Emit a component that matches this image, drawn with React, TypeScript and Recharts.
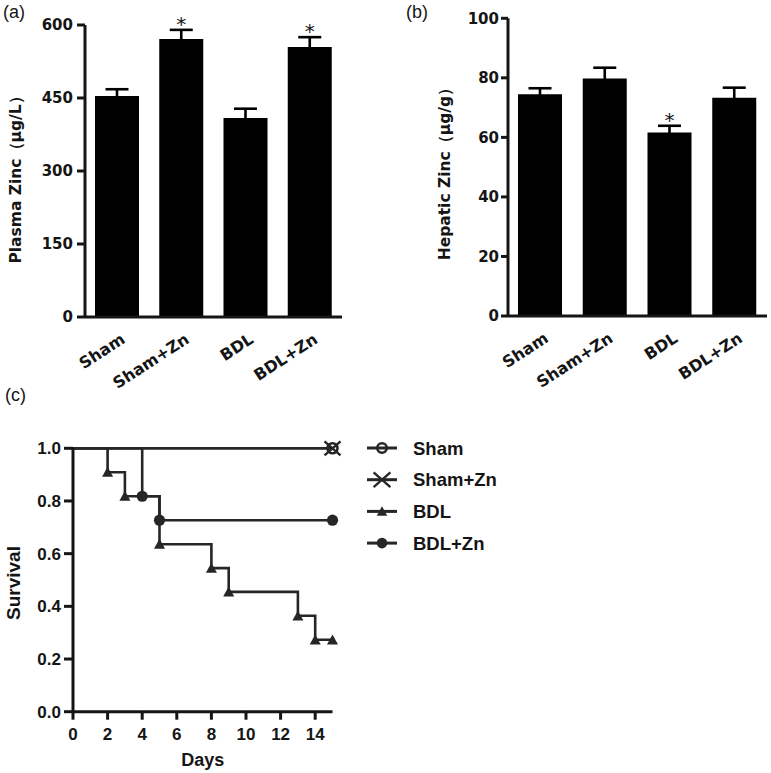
import React from 'react';
import { BarChart, Bar, XAxis, YAxis, ErrorBar, LabelList, LineChart, Line, Legend } from 'recharts';

// ---------- data ----------
const categories = ['Sham', 'Sham+Zn', 'BDL', 'BDL+Zn'];

const plasmaMean = [454, 571, 409, 555];
const plasmaSem = [14, 19, 19, 20];
const plasmaSig = ['', '*', '', '*'];
const plasmaTicks = [0, 150, 300, 450, 600];

const hepaticMean = [74.5, 79.8, 61.6, 73.3];
const hepaticSem = [2.0, 3.6, 2.3, 3.4];
const hepaticSig = ['', '', '*', ''];
const hepaticTicks = [0, 20, 40, 60, 80, 100];

const dayTicks = [0, 2, 4, 6, 8, 10, 12, 14];
const survivalTicks = [0, 0.2, 0.4, 0.6, 0.8, 1.0];

const seriesNames = ['Sham', 'Sham+Zn', 'BDL', 'BDL+Zn'];
const shamDays = [0, 15];
const shamSurvival = [1, 1];
const shamZnDays = [0, 15];
const shamZnSurvival = [1, 1];
const bdlDays = [0, 2, 3, 5, 8, 9, 13, 14, 15];
const bdlSurvival = [1, 0.909, 0.818, 0.636, 0.545, 0.455, 0.364, 0.273, 0.273];
const bdlZnDays = [0, 4, 5, 15];
const bdlZnSurvival = [1, 0.818, 0.727, 0.727];

// ---------- tables built from arrays ----------
const plasmaData = categories.map((name, i) => ({ name, mean: plasmaMean[i], sem: plasmaSem[i], sig: plasmaSig[i] }));
const hepaticData = categories.map((name, i) => ({ name, mean: hepaticMean[i], sem: hepaticSem[i], sig: hepaticSig[i] }));
const toSeries = (days: number[], surv: number[]) => days.map((d, i) => ({ day: d, surv: surv[i] }));
const survivalSeries = [
  toSeries(shamDays, shamSurvival),
  toSeries(shamZnDays, shamZnSurvival),
  toSeries(bdlDays, bdlSurvival),
  toSeries(bdlZnDays, bdlZnSurvival),
];
const seriesMarkers = ['openCircle', 'cross', 'triangle', 'dot'];

// ---------- styles ----------
const INK = '#151515';
const LINE = '#262626';
const WIDE = 'DejaVu Sans';
const ARIAL = 'Liberation Sans';

const BarTick = (props: any) => {
  const { x, y, payload } = props;
  return (
    <text
      x={0}
      y={0}
      transform={`translate(${x + 9},${y + 17}) rotate(-33)`}
      textAnchor="end"
      fill={INK}
      fontSize={16}
      fontFamily={WIDE}
      fontWeight="bold"
    >
      {payload.value}
    </text>
  );
};

const makeStar = (means: number[], sems: number[]) => (props: any) => {
  const { x, y, width, height, value, index } = props;
  if (!value) return null;
  const errPx = (Math.abs(height) / means[index]) * sems[index];
  return (
    <text
      key={`star-${index}`}
      x={x + width / 2}
      y={y - errPx + 1}
      textAnchor="middle"
      fontSize={20}
      fontFamily={WIDE}
      fill={INK}
    >
      {value}
    </text>
  );
};

const makeYTitle = (text: string, bx: number, dyOff: number, size: number, family: string) => (props: any) => {
  const vb = props.viewBox || {};
  const x = vb.x + bx;
  const y = vb.y + vb.height / 2 + dyOff;
  return (
    <text
      x={x}
      y={y}
      transform={`rotate(-90, ${x}, ${y})`}
      textAnchor="middle"
      fill={INK}
      fontSize={size}
      fontFamily={family}
      fontWeight="bold"
    >
      {text}
    </text>
  );
};

const DaysTitle = (props: any) => {
  const vb = props.viewBox || {};
  return (
    <text x={vb.x + vb.width / 2} y={vb.y + 54.3} textAnchor="middle" fill={INK} fontSize={18} fontFamily={ARIAL} fontWeight="bold">
      Days
    </text>
  );
};

const Marker = ({ kind, cx, cy, scale = 1 }: { kind: string; cx: number; cy: number; scale?: number }) => {
  const s = scale;
  switch (kind) {
    case 'openCircle':
      return <circle cx={cx} cy={cy} r={5 * s} fill="none" stroke={LINE} strokeWidth={2.6} />;
    case 'cross':
      return (
        <g stroke={LINE} strokeWidth={2.4}>
          <line x1={cx - 8 * s} y1={cy - 7 * s} x2={cx + 8 * s} y2={cy + 7 * s} />
          <line x1={cx - 8 * s} y1={cy + 7 * s} x2={cx + 8 * s} y2={cy - 7 * s} />
        </g>
      );
    case 'triangle':
      return (
        <polygon
          points={`${cx - 5.5 * s},${cy + 4.6 * s} ${cx + 5.5 * s},${cy + 4.6 * s} ${cx},${cy - 5.4 * s}`}
          fill={LINE}
        />
      );
    default:
      return <circle cx={cx} cy={cy} r={5.6 * s} fill={LINE} />;
  }
};

const makeDot = (kind: string) => (props: any) => {
  const { cx, cy, index } = props;
  if (index === 0 || cx == null || cy == null) return <g key={`d-${kind}-${index}`} />;
  return (
    <g key={`d-${kind}-${index}`}>
      <Marker kind={kind} cx={cx} cy={cy} />
    </g>
  );
};

const LegendContent = (props: any) => {
  const payload = [...(props.payload || [])].sort(
    (a: any, b: any) => seriesNames.indexOf(a.value) - seriesNames.indexOf(b.value)
  );
  return (
    <svg width={170} height={125} style={{ display: 'block', overflow: 'visible' }}>
      {payload.map((entry: any, i: number) => {
        const y = 12 + i * 31.7;
        const idx = seriesNames.indexOf(entry.value);
        const kind = seriesMarkers[idx >= 0 ? idx : i];
        return (
          <g key={`leg-${i}`}>
            <line x1={7} y1={y} x2={37} y2={y} stroke={LINE} strokeWidth={3} />
            <Marker kind={kind} cx={22} cy={y} scale={kind === 'cross' ? 1.05 : 0.95} />
            <text x={53} y={y + 6.5} fill={INK} fontSize={18.5} fontFamily={ARIAL} fontWeight="bold">
              {entry.value}
            </text>
          </g>
        );
      })}
    </svg>
  );
};

const barAxisTick = { fill: INK, fontSize: 15, fontFamily: WIDE, fontWeight: 'bold' } as any;

export default function App() {
  return (
    <div style={{ position: 'absolute', left: 0, top: 0, width: 771, height: 773, background: '#fff', overflow: 'hidden' }}>
      {/* (c) Survival */}
      <div style={{ position: 'absolute', left: 0, top: 388 }}>
        <LineChart width={771} height={385} margin={{ top: 60.3, right: 438.5, bottom: 0, left: 0 }}>
          <XAxis
            type="number"
            dataKey="day"
            domain={[0, 15]}
            ticks={dayTicks}
            height={61.3}
            tickSize={8}
            tickMargin={8}
            axisLine={{ stroke: INK, strokeWidth: 3 }}
            tickLine={{ stroke: INK, strokeWidth: 3 }}
            tick={{ fill: INK, fontSize: 17, fontFamily: ARIAL, fontWeight: 'bold' } as any}
            allowDuplicatedCategory={false}
            label={<DaysTitle />}
          />
          <YAxis
            type="number"
            width={73}
            domain={[0, 1]}
            ticks={survivalTicks}
            tickFormatter={(v: number) => v.toFixed(1)}
            tickSize={9}
            tickMargin={3}
            axisLine={{ stroke: INK, strokeWidth: 3 }}
            tickLine={{ stroke: INK, strokeWidth: 3 }}
            tick={{ fill: INK, fontSize: 17, fontFamily: ARIAL, fontWeight: 'bold' } as any}
            label={makeYTitle('Survival', 20, 3, 19, ARIAL)}
          />
          {survivalSeries.map((series, i) => (
            <Line
              key={seriesNames[i]}
              name={seriesNames[i]}
              data={series}
              dataKey="surv"
              type="stepAfter"
              stroke={LINE}
              strokeWidth={2.6}
              dot={makeDot(seriesMarkers[i])}
              activeDot={false}
              isAnimationActive={false}
            />
          ))}
          <Legend
            layout="vertical"
            align="center"
            verticalAlign="middle"
            content={<LegendContent />}
            wrapperStyle={{ left: 360, top: 48, width: 170, height: 125 }}
          />
        </LineChart>
      </div>

      {/* (a) Plasma zinc */}
      <div style={{ position: 'absolute', left: 0, top: 0 }}>
        <BarChart width={390} height={405} data={plasmaData} margin={{ top: 25, right: 48, bottom: 0, left: 0 }}>
          <XAxis
            dataKey="name"
            height={88}
            tickLine={false}
            axisLine={{ stroke: INK, strokeWidth: 3 }}
            tick={<BarTick />}
            interval={0}
          />
          <YAxis
            width={85}
            domain={[0, 600]}
            ticks={plasmaTicks}
            tickSize={8}
            tickMargin={4}
            axisLine={{ stroke: INK, strokeWidth: 3 }}
            tickLine={{ stroke: INK, strokeWidth: 3 }}
            tick={barAxisTick}
            label={makeYTitle('Plasma Zinc（μg/L）', 20.5, 5, 15.5, WIDE)}
          />
          <Bar dataKey="mean" fill="#000" barSize={44} isAnimationActive={false}>
            <ErrorBar dataKey="sem" width={11.5} strokeWidth={2.6} stroke="#000" direction="y" />
            <LabelList dataKey="sig" content={makeStar(plasmaMean, plasmaSem)} />
          </Bar>
        </BarChart>
      </div>

      {/* (b) Hepatic zinc */}
      <div style={{ position: 'absolute', left: 390, top: 0 }}>
        <BarChart width={381} height={405} data={hepaticData} margin={{ top: 18.3, right: 4, bottom: 0, left: 0 }}>
          <XAxis
            dataKey="name"
            height={89}
            tickLine={false}
            axisLine={{ stroke: INK, strokeWidth: 3 }}
            tick={<BarTick />}
            interval={0}
          />
          <YAxis
            width={118}
            domain={[0, 100]}
            ticks={hepaticTicks}
            tickSize={7}
            tickMargin={2}
            axisLine={{ stroke: INK, strokeWidth: 3 }}
            tickLine={{ stroke: INK, strokeWidth: 3 }}
            tick={barAxisTick}
            label={makeYTitle('Hepatic Zinc（μg/g）', 60, 3, 15.5, WIDE)}
          />
          <Bar dataKey="mean" fill="#000" barSize={44} isAnimationActive={false}>
            <ErrorBar dataKey="sem" width={11.5} strokeWidth={2.6} stroke="#000" direction="y" />
            <LabelList dataKey="sig" content={makeStar(hepaticMean, hepaticSem)} />
          </Bar>
        </BarChart>
      </div>

      {/* panel labels */}
      <svg width={771} height={773} style={{ position: 'absolute', left: 0, top: 0, pointerEvents: 'none' }}>
        <text x={3} y={18} fontSize={18} fontFamily={ARIAL} fill={INK}>(a)</text>
        <text x={406} y={17.5} fontSize={18} fontFamily={ARIAL} fill={INK}>(b)</text>
        <text x={5} y={401} fontSize={18} fontFamily={ARIAL} fill={INK}>(c)</text>
      </svg>
    </div>
  );
}
